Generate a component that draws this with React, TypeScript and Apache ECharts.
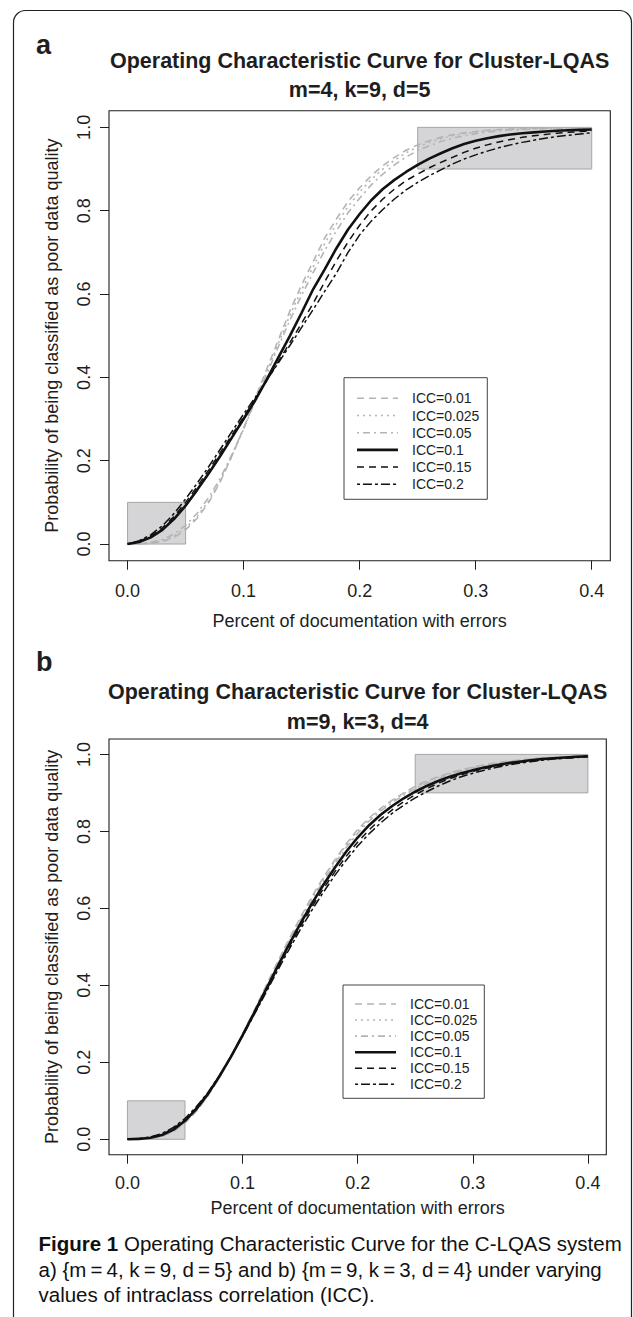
import React, { useEffect, useRef } from 'react';
import * as echarts from 'echarts';

const X_VALUES = [0, 0.01, 0.02, 0.03, 0.04, 0.05, 0.06, 0.07, 0.08, 0.09, 0.1, 0.11, 0.12, 0.13, 0.14, 0.15, 0.16, 0.17, 0.18, 0.19, 0.2, 0.21, 0.22, 0.23, 0.24, 0.25, 0.26, 0.27, 0.28, 0.29, 0.3, 0.31, 0.32, 0.33, 0.34, 0.35, 0.36, 0.37, 0.38, 0.39, 0.4];

// Panel a: m=4, k=9, d=5
const A_ICC_001 = [0, 0.000, 0.002, 0.006, 0.016, 0.034, 0.062, 0.100, 0.150, 0.212, 0.278, 0.350, 0.420, 0.490, 0.560, 0.622, 0.678, 0.735, 0.780, 0.822, 0.855, 0.884, 0.908, 0.928, 0.945, 0.958, 0.968, 0.976, 0.982, 0.987, 0.990, 0.993, 0.995, 0.996, 0.997, 0.998, 0.998, 0.999, 0.999, 0.999, 0.999];
const A_ICC_0025 = [0, 0.001, 0.003, 0.008, 0.019, 0.038, 0.066, 0.104, 0.152, 0.212, 0.276, 0.346, 0.414, 0.482, 0.550, 0.610, 0.666, 0.722, 0.768, 0.810, 0.845, 0.875, 0.900, 0.921, 0.939, 0.953, 0.964, 0.973, 0.980, 0.985, 0.989, 0.992, 0.994, 0.995, 0.996, 0.997, 0.998, 0.998, 0.999, 0.999, 0.999];
const A_ICC_005 = [0, 0.001, 0.004, 0.011, 0.024, 0.045, 0.074, 0.112, 0.158, 0.215, 0.277, 0.343, 0.408, 0.474, 0.538, 0.597, 0.652, 0.705, 0.752, 0.795, 0.830, 0.862, 0.888, 0.910, 0.929, 0.944, 0.956, 0.966, 0.974, 0.980, 0.985, 0.989, 0.992, 0.994, 0.995, 0.996, 0.997, 0.998, 0.998, 0.999, 0.999];
const A_ICC_01 = [0, 0.005, 0.016, 0.034, 0.060, 0.092, 0.130, 0.170, 0.212, 0.256, 0.300, 0.345, 0.395, 0.448, 0.500, 0.555, 0.612, 0.660, 0.710, 0.755, 0.792, 0.825, 0.852, 0.874, 0.893, 0.910, 0.925, 0.938, 0.950, 0.960, 0.968, 0.974, 0.979, 0.983, 0.986, 0.988, 0.990, 0.992, 0.993, 0.994, 0.995];
const A_ICC_015 = [0, 0.006, 0.019, 0.039, 0.066, 0.100, 0.138, 0.178, 0.220, 0.262, 0.305, 0.348, 0.392, 0.438, 0.484, 0.530, 0.578, 0.630, 0.680, 0.725, 0.765, 0.800, 0.828, 0.852, 0.872, 0.888, 0.903, 0.916, 0.928, 0.940, 0.950, 0.958, 0.965, 0.971, 0.976, 0.980, 0.983, 0.986, 0.988, 0.990, 0.991];
const A_ICC_02 = [0, 0.008, 0.022, 0.044, 0.073, 0.108, 0.146, 0.186, 0.228, 0.270, 0.312, 0.352, 0.393, 0.435, 0.477, 0.520, 0.563, 0.607, 0.650, 0.700, 0.742, 0.775, 0.803, 0.828, 0.850, 0.868, 0.884, 0.898, 0.912, 0.924, 0.934, 0.943, 0.951, 0.958, 0.964, 0.969, 0.974, 0.978, 0.981, 0.984, 0.987];

// Panel b: m=9, k=3, d=4
const B_ICC_001 = [0, 0.000, 0.002, 0.008, 0.020, 0.042, 0.073, 0.113, 0.160, 0.214, 0.273, 0.334, 0.396, 0.458, 0.518, 0.575, 0.629, 0.679, 0.725, 0.767, 0.805, 0.835, 0.860, 0.881, 0.900, 0.917, 0.931, 0.942, 0.952, 0.960, 0.967, 0.973, 0.978, 0.982, 0.985, 0.988, 0.990, 0.992, 0.994, 0.995, 0.996];
const B_ICC_0025 = [0, 0.000, 0.002, 0.008, 0.021, 0.043, 0.074, 0.114, 0.161, 0.214, 0.272, 0.333, 0.394, 0.456, 0.515, 0.572, 0.626, 0.676, 0.722, 0.764, 0.801, 0.832, 0.857, 0.879, 0.898, 0.915, 0.929, 0.941, 0.951, 0.959, 0.966, 0.972, 0.977, 0.981, 0.985, 0.988, 0.990, 0.992, 0.994, 0.995, 0.996];
const B_ICC_005 = [0, 0.001, 0.003, 0.009, 0.022, 0.045, 0.076, 0.115, 0.162, 0.214, 0.271, 0.331, 0.391, 0.452, 0.511, 0.567, 0.620, 0.670, 0.716, 0.758, 0.795, 0.827, 0.853, 0.875, 0.894, 0.911, 0.925, 0.937, 0.948, 0.957, 0.964, 0.970, 0.975, 0.980, 0.984, 0.987, 0.989, 0.991, 0.993, 0.995, 0.996];
const B_ICC_01 = [0, 0.001, 0.004, 0.011, 0.025, 0.048, 0.079, 0.118, 0.164, 0.215, 0.270, 0.328, 0.387, 0.446, 0.504, 0.559, 0.611, 0.660, 0.705, 0.747, 0.784, 0.816, 0.843, 0.866, 0.886, 0.903, 0.918, 0.931, 0.942, 0.951, 0.959, 0.966, 0.972, 0.977, 0.981, 0.985, 0.988, 0.990, 0.992, 0.994, 0.995];
const B_ICC_015 = [0, 0.001, 0.005, 0.013, 0.028, 0.051, 0.082, 0.120, 0.165, 0.215, 0.269, 0.325, 0.383, 0.441, 0.497, 0.551, 0.602, 0.650, 0.694, 0.735, 0.772, 0.804, 0.832, 0.856, 0.877, 0.895, 0.911, 0.925, 0.937, 0.947, 0.956, 0.963, 0.969, 0.975, 0.979, 0.983, 0.986, 0.989, 0.991, 0.993, 0.995];
const B_ICC_02 = [0, 0.002, 0.006, 0.015, 0.031, 0.054, 0.085, 0.122, 0.166, 0.215, 0.268, 0.323, 0.379, 0.436, 0.491, 0.544, 0.594, 0.641, 0.685, 0.725, 0.762, 0.794, 0.822, 0.847, 0.868, 0.887, 0.903, 0.918, 0.931, 0.942, 0.951, 0.959, 0.966, 0.972, 0.977, 0.981, 0.985, 0.988, 0.990, 0.992, 0.994];

const ICC_LABELS = ['ICC=0.01', 'ICC=0.025', 'ICC=0.05', 'ICC=0.1', 'ICC=0.15', 'ICC=0.2'];
const PANEL_A_SERIES = [A_ICC_001, A_ICC_0025, A_ICC_005, A_ICC_01, A_ICC_015, A_ICC_02];
const PANEL_B_SERIES = [B_ICC_001, B_ICC_0025, B_ICC_005, B_ICC_01, B_ICC_015, B_ICC_02];

const X_TICKS = [0, 0.1, 0.2, 0.3, 0.4];
const Y_TICKS = [0, 0.2, 0.4, 0.6, 0.8, 1.0];
const RECT_LOW = [[0, 0], [0.05, 0.1]];
const RECT_HIGH = [[0.25, 0.9], [0.4, 1.0]];

const TITLE = 'Operating Characteristic Curve for Cluster-LQAS';
const SUB_A = 'm=4, k=9, d=5';
const SUB_B = 'm=9, k=3, d=4';
const X_NAME = 'Percent of documentation with errors';
const Y_NAME = 'Probability of being classified as poor data quality';
const CAPTION_1_BOLD = 'Figure 1';
const CAPTION_1 = ' Operating Characteristic Curve for the C-LQAS system';
const CAPTION_2 = 'a) {m\u2009=\u20094, k\u2009=\u20099, d\u2009=\u20095} and b) {m\u2009=\u20099, k\u2009=\u20093, d\u2009=\u20094} under varying';
const CAPTION_3 = 'values of intraclass correlation (ICC).';

const FONT = '"Liberation Sans", Arial, Helvetica, sans-serif';
const INK = '#1e1e1e';
const GRAY = '#b4b4b4';

const LINE_STYLES = [
  { color: GRAY, width: 1.6, dash: [7, 5] },
  { color: GRAY, width: 1.6, dash: [2, 4] },
  { color: GRAY, width: 1.6, dash: [2, 4, 7, 4] },
  { color: '#111111', width: 2.6, dash: null },
  { color: '#111111', width: 1.5, dash: [7, 5] },
  { color: '#111111', width: 1.5, dash: [3, 3, 9, 3] },
];

const PANELS = [
  { grid: { left: 109, top: 110.7, width: 501.3, height: 450 }, values: PANEL_A_SERIES, sub: SUB_A,
    titleTop: 46, titleLine: 29, letter: 'a', letterTop: 31, xNameGap: 51, yNameGap: 48, labelMargin: 21,
    legend: { x: 344, y: 377.7, w: 143.3, h: 121.6, row0: 398.3, rowGap: 17.2, lx0: 357, lx1: 398, tx: 412 } },
  { grid: { left: 109, top: 739, width: 497.3, height: 415.7 }, values: PANEL_B_SERIES, sub: SUB_B,
    titleTop: 676.7, titleLine: 30, letter: 'b', letterTop: 648, xNameGap: 44, yNameGap: 48, labelMargin: 19,
    legend: { x: 343, y: 985, w: 141.3, h: 113.3, row0: 1004, rowGap: 16.06, lx0: 355, lx1: 396, tx: 410 } },
];

function buildOption() {
  const grids: any[] = [];
  const xAxes: any[] = [];
  const yAxes: any[] = [];
  const series: any[] = [];
  const titles: any[] = [];
  const graphics: any[] = [];

  PANELS.forEach((p, gi) => {
    grids.push({ ...p.grid, show: true, borderColor: INK, borderWidth: 1.1, backgroundColor: 'transparent', containLabel: false });
    xAxes.push({
      type: 'value', gridIndex: gi, min: -0.016, max: 0.416, position: 'bottom',
      axisLine: { show: false, onZero: false },
      splitLine: { show: false },
      axisTick: { show: true, customValues: X_TICKS, length: 9, lineStyle: { color: INK, width: 1 } },
      axisLabel: { show: true, customValues: X_TICKS, margin: p.labelMargin, color: INK, fontSize: 18, fontFamily: FONT,
        formatter: (v: number) => v.toFixed(1) },
      name: X_NAME, nameLocation: 'middle', nameGap: p.xNameGap,
      nameTextStyle: { fontSize: 18, color: INK, fontFamily: FONT },
    });
    yAxes.push({
      type: 'value', gridIndex: gi, min: -0.04, max: 1.04, position: 'left',
      axisLine: { show: false, onZero: false },
      splitLine: { show: false },
      axisTick: { show: true, customValues: Y_TICKS, length: 9, lineStyle: { color: INK, width: 1 } },
      axisLabel: { show: true, customValues: Y_TICKS, rotate: 90, margin: 16, color: INK, fontSize: 18, fontFamily: FONT,
        formatter: (v: number) => v.toFixed(1) },
      name: Y_NAME, nameLocation: 'middle', nameGap: p.yNameGap,
      nameTextStyle: { fontSize: 18, color: INK, fontFamily: FONT },
    });

    series.push({
      type: 'line', xAxisIndex: gi, yAxisIndex: gi, data: [], z: 1, silent: true,
      markArea: {
        silent: true,
        itemStyle: { color: '#d5d5d7', borderColor: '#a6a6a6', borderWidth: 1 },
        data: [
          [{ coord: RECT_LOW[0] }, { coord: RECT_LOW[1] }],
          [{ coord: RECT_HIGH[0] }, { coord: RECT_HIGH[1] }],
        ],
      },
    });

    p.values.forEach((vals, si) => {
      const st = LINE_STYLES[si];
      series.push({
        type: 'line', name: ICC_LABELS[si], xAxisIndex: gi, yAxisIndex: gi, z: 3 + (si >= 3 ? si : 0),
        symbol: 'none', showSymbol: false, silent: true, smooth: false,
        lineStyle: { color: st.color, width: st.width, type: st.dash ? st.dash : 'solid' },
        data: X_VALUES.map((x, i) => [x, vals[i]]),
      });
    });

    const cx = p.grid.left + p.grid.width / 2;
    titles.push({
      text: TITLE + '\n' + p.sub, left: cx, top: p.titleTop, textAlign: 'center', padding: 0,
      textStyle: { fontSize: 21.5, fontWeight: 'bold', color: INK, fontFamily: FONT, lineHeight: p.titleLine },
    });
    titles.push({
      text: p.letter, left: 36, top: p.letterTop, padding: 0,
      textStyle: { fontSize: 27, fontWeight: 'bold', color: INK, fontFamily: FONT, lineHeight: 27 },
    });

    const lg = p.legend;
    const children: any[] = [
      { type: 'rect', shape: { x: lg.x, y: lg.y, width: lg.w, height: lg.h }, style: { fill: '#ffffff', stroke: '#444444', lineWidth: 1 } },
    ];
    ICC_LABELS.forEach((lab, si) => {
      const st = LINE_STYLES[si];
      const yy = lg.row0 + si * lg.rowGap;
      children.push({ type: 'line', shape: { x1: lg.lx0, y1: yy, x2: lg.lx1, y2: yy },
        style: { stroke: st.color, lineWidth: st.width, lineDash: st.dash || null } });
      children.push({ type: 'text', x: lg.tx, y: yy,
        style: { text: lab, fontSize: 14, fontFamily: FONT, fill: INK, verticalAlign: 'middle', align: 'left' } });
    });
    graphics.push({ type: 'group', z: 50, children });
  });

  graphics.push({
    type: 'rect', z: 60, shape: { x: 13.5, y: 10.5, width: 618, height: 1320, r: 12 },
    style: { fill: 'none', stroke: '#222222', lineWidth: 1.2 },
  });
  graphics.push({
    type: 'text', z: 60, x: 38.5, y: 1243,
    style: { text: '{b|' + CAPTION_1_BOLD + '}' + CAPTION_1, fontSize: 20.5, fontFamily: FONT, fill: '#111', verticalAlign: 'middle',
      rich: { b: { fontWeight: 'bold', fontSize: 20.5, fontFamily: FONT, fill: '#111' } } },
  });
  graphics.push({
    type: 'text', z: 60, x: 38.5, y: 1269,
    style: { text: CAPTION_2, fontSize: 20.5, fontFamily: FONT, fill: '#111', verticalAlign: 'middle' },
  });
  graphics.push({
    type: 'text', z: 60, x: 38.5, y: 1294,
    style: { text: CAPTION_3, fontSize: 20.5, fontFamily: FONT, fill: '#111', verticalAlign: 'middle' },
  });

  return {
    animation: false,
    backgroundColor: '#ffffff',
    title: titles,
    grid: grids,
    xAxis: xAxes,
    yAxis: yAxes,
    series,
    graphic: graphics,
  };
}

export default function App() {
  const ref = useRef<HTMLDivElement>(null);
  useEffect(() => {
    if (!ref.current) return;
    const chart = echarts.init(ref.current, null, { renderer: 'svg' });
    chart.setOption(buildOption() as any);
    return () => chart.dispose();
  }, []);
  return <div ref={ref} style={{ position: 'fixed', left: 0, top: 0, width: 633, height: 1317, background: '#fff' }} />;
}
